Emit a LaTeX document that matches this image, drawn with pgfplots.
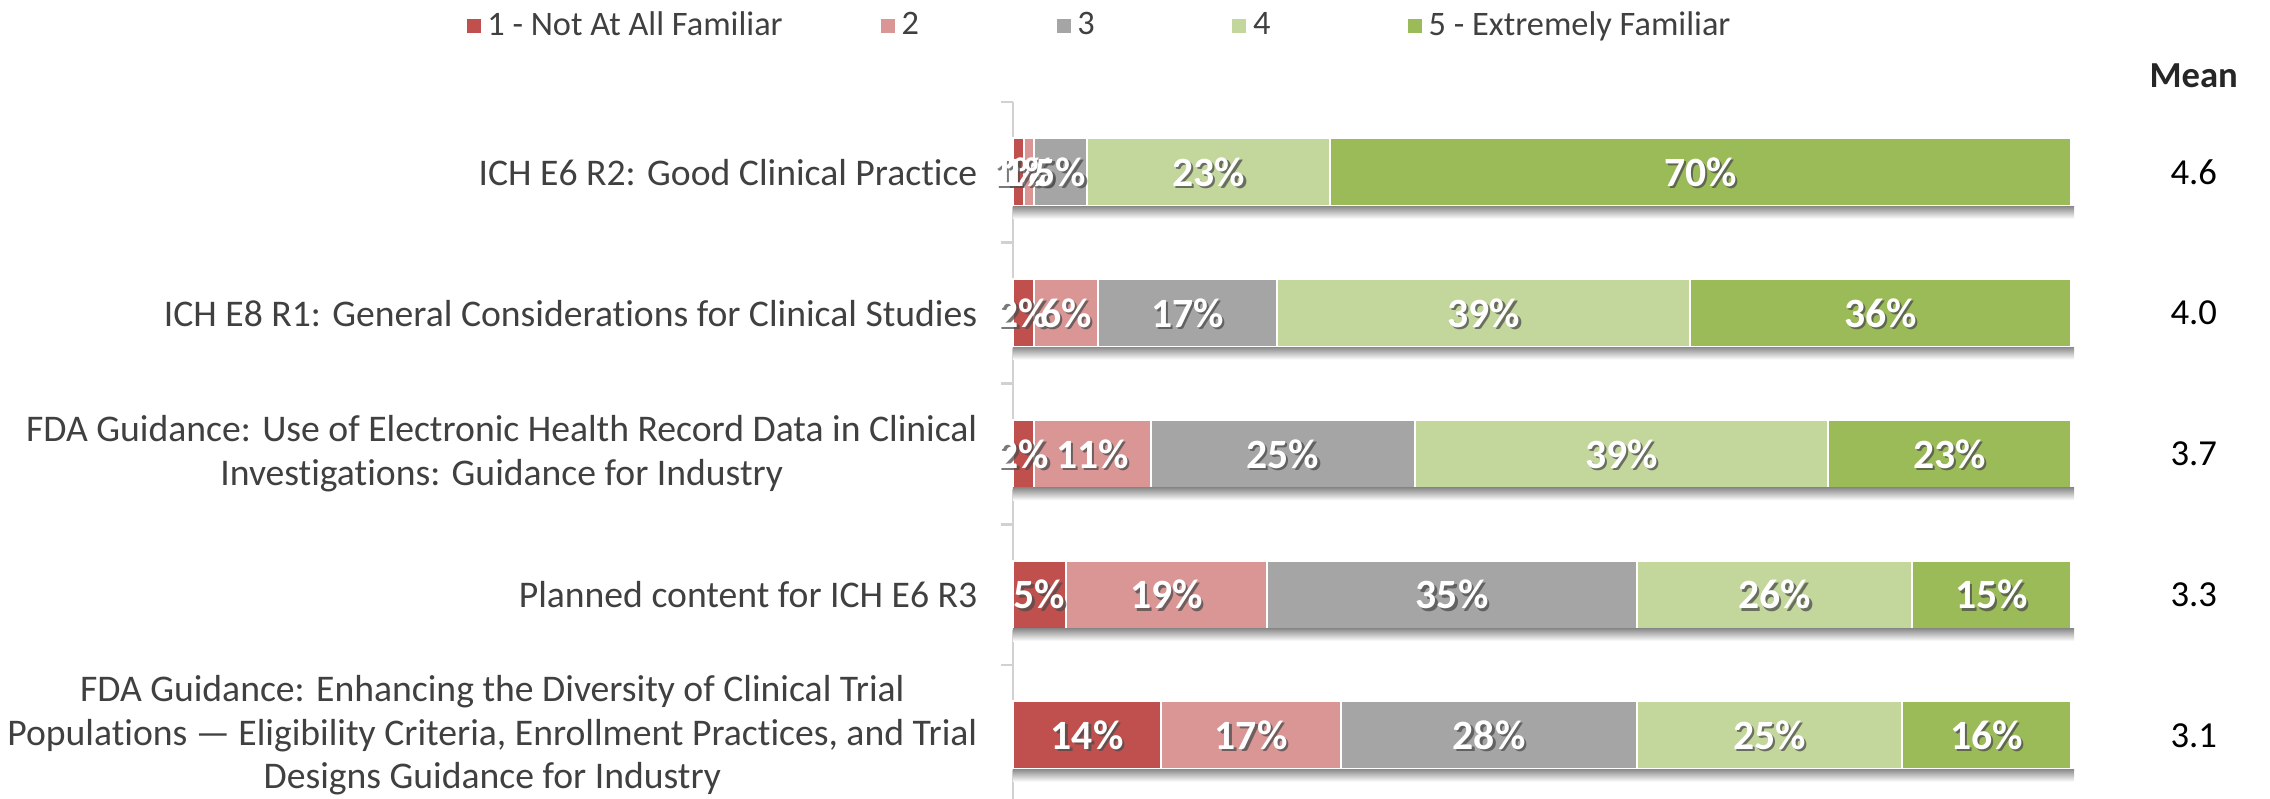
\documentclass[border=0pt]{standalone}
\usepackage{pgfplots}
\pgfplotsset{compat=1.18}
\usepackage{pgfplotstable}
\usepackage{fontspec}
\setmainfont{Carlito}[Ligatures=NoCommon]

\definecolor{L1}{HTML}{C0504D}
\definecolor{L2}{HTML}{D99694}
\definecolor{L3}{HTML}{A5A5A5}
\definecolor{L4}{HTML}{C3D69B}
\definecolor{L5}{HTML}{9BBB59}
\definecolor{TextGray}{HTML}{404040}

% familiarity shares (%) per guidance document, top to bottom
\pgfplotstableread{
row c1 c2 c3 c4 c5 mean
0   1  1  5  23 70 4.6
1   2  6  17 39 36 4.0
2   2  11 25 39 23 3.7
3   5  19 35 26 15 3.3
4   14 17 28 25 16 3.1
}\famdata

\newcommand{\lblfont}{\fontsize{12.5}{14}\selectfont\bfseries}
\newcommand{\shadowbar}[1]{%
  \fill[top color=black!45, bottom color=white] (axis cs:0,#1+0.242) rectangle (axis cs:100.3,#1+0.33);
}

\begin{document}
\begin{tikzpicture}
\useasboundingbox (0,0) rectangle (681pt,-239.7pt);
\begin{axis}[
    at={(303.9pt,-30.6pt)},
    anchor=north west,
    scale only axis,
    width=317.4pt,
    height=209.0pt,
    xbar stacked,
    bar width=20.4pt,
    xmin=0, xmax=100,
    ymin=-0.5, ymax=4.45,
    y dir=reverse,
    clip=false,
    axis x line=none,
    axis y line*=left,
    axis line style={draw=black!18, line width=0.8pt},
    ytick={0,1,2,3,4},
    yticklabels={
        {ICH E6 R2: Good Clinical Practice},
        {ICH E8 R1: General Considerations for Clinical Studies},
        {FDA Guidance: Use of Electronic Health Record Data in Clinical\\Investigations: Guidance for Industry},
        {Planned content for ICH E6 R3},
        {FDA Guidance: Enhancing the Diversity of Clinical Trial\\Populations --- Eligibility Criteria, Enrollment Practices, and Trial\\Designs Guidance for Industry}
    },
    major tick length=0pt,
    yticklabel style={align=center, font=\fontsize{11.3}{13.05}\selectfont, text=TextGray, inner sep=0pt, xshift=-10.5pt},
    extra y ticks={-0.5,0.5,1.5,2.5,3.5},
    extra y tick labels={},
    extra y tick style={major tick length=3.6pt, tick align=outside, tick pos=left, tick style={draw=black!18, line width=0.8pt}},
    legend columns=5,
    legend style={
        draw=none, fill=none,
        at={(-0.517,1.109)}, anchor=west,
        inner sep=0pt,
        font=\fontsize{10.3}{12}\selectfont,
        text=TextGray,
        /tikz/every even column/.append style={column sep=27.5pt},
    },
    legend image code/.code={\fill[#1, draw=none] (0pt,-2.1pt) rectangle (4.2pt,2.1pt);},
    every axis plot/.append style={draw=white, line width=0.6pt},
]

\shadowbar{0}
\shadowbar{1}
\shadowbar{2}
\shadowbar{3}
\shadowbar{4}

\addplot[fill=L1] table[x=c1, y=row] {\famdata};
\addlegendentry{1 - Not At All Familiar}
\addplot[fill=L2] table[x=c2, y=row] {\famdata};
\addlegendentry{\makebox[17pt][l]{2}}
\addplot[fill=L3] table[x=c3, y=row] {\famdata};
\addlegendentry{\makebox[17pt][l]{3}}
\addplot[fill=L4] table[x=c4, y=row] {\famdata};
\addlegendentry{\makebox[17pt][l]{4}}
\addplot[fill=L5] table[x=c5, y=row] {\famdata};
\addlegendentry{5 - Extremely Familiar}

% reference point for labels drawn on top after the axis
\coordinate (o) at (axis cs:0,0);

% mean column
\node[font=\fontsize{11}{13}\selectfont\bfseries, text=black!85] at (axis cs:111.6,-0.69) {Mean};
\node[font=\fontsize{11}{13}\selectfont, text=black] at (axis cs:111.6,0) {4.6};
\node[font=\fontsize{11}{13}\selectfont, text=black] at (axis cs:111.6,1) {4.0};
\node[font=\fontsize{11}{13}\selectfont, text=black] at (axis cs:111.6,2) {3.7};
\node[font=\fontsize{11}{13}\selectfont, text=black] at (axis cs:111.6,3) {3.3};
\node[font=\fontsize{11}{13}\selectfont, text=black] at (axis cs:111.6,4) {3.1};

\end{axis}

% segment labels at segment midpoints (3.174pt per %, 42.225pt per row)
\foreach \x/\y/\t in {
    0.5/0/1, 1.5/0/1, 4.5/0/5, 18.5/0/23, 65/0/70,
    1/1/2, 5/1/6, 16.5/1/17, 44.5/1/39, 82/1/36,
    1/2/2, 7.5/2/11, 25.5/2/25, 57.5/2/39, 88.5/2/23,
    2.5/3/5, 14.5/3/19, 41.5/3/35, 72/3/26, 92.5/3/15,
    7/4/14, 22.5/4/17, 45/4/28, 71.5/4/25, 92/4/16} {
  \node[font=\lblfont, text=black!70, opacity=0.75] at ([xshift=\x*3.174pt+0.7pt, yshift=-\y*42.225pt-0.7pt]o) {\t\%};
  \node[font=\lblfont, text=white] at ([xshift=\x*3.174pt, yshift=-\y*42.225pt]o) {\t\%};
}
\end{tikzpicture}
\end{document}
